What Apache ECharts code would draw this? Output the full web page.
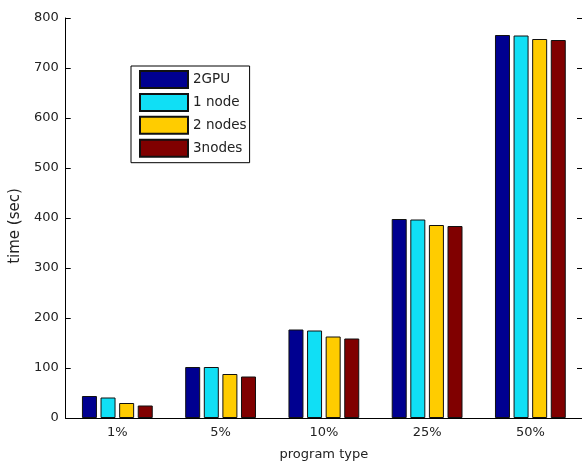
<!DOCTYPE html>
<html>
<head>
<meta charset="utf-8">
<script src="https://cdn.jsdelivr.net/npm/echarts@6/dist/echarts.min.js"></script>
<style>
  html, body { margin: 0; padding: 0; background: #fff; }
  #chart { width: 582px; height: 466px; }
</style>
</head>
<body>
<div id="chart"></div>
<script>
    // program types (x categories)
    let categories = ['1%', '5%', '10%', '25%', '50%']
    // time (sec) for each configuration
    let gpu2 = [44, 102, 177, 398, 766]
    let node1 = [41, 102, 175, 397, 765]
    let nodes2 = [30, 88, 163, 386, 758]
    let nodes3 = [25, 83, 159, 384, 756]
    let yTicks = [0, 100, 200, 300, 400, 500, 600, 700, 800]

    let seriesList = [
        { name: '2GPU', color: '#000090', data: gpu2 },
        { name: '1 node', color: '#10DFF5', data: node1 },
        { name: '2 nodes', color: '#FFCC00', data: nodes2 },
        { name: '3nodes', color: '#800000', data: nodes3 }
    ]

    let font = 'DejaVu Sans'
    let chart = echarts.init(document.getElementById('chart'))

    chart.setOption({
        animation: false,
        backgroundColor: '#fff',
        legend: {
            orient: 'vertical',
            left: 131,
            top: 66,
            padding: [4, 3, 5, 8],
            itemGap: 3.9,
            itemWidth: 48,
            itemHeight: 17,
            icon: 'rect',
            borderColor: '#000',
            borderWidth: 1,
            backgroundColor: '#fff',
            textStyle: { fontFamily: font, fontSize: 13.5, color: '#222', lineHeight: 17 },
            data: seriesList.map(s => s.name)
        },
        grid: {
            left: 65,
            top: 18,
            width: 518,
            bottom: 41
        },
        xAxis: [
            {
                type: 'category',
                data: categories,
                name: 'program type',
                nameLocation: 'middle',
                nameGap: 30,
                nameTextStyle: { fontFamily: font, fontSize: 13, color: '#222' },
                axisLine: { lineStyle: { color: '#000', width: 1 } },
                axisTick: { inside: true, alignWithLabel: true, length: 5, lineStyle: { color: '#000' } },
                axisLabel: { fontFamily: font, fontSize: 13, color: '#222', margin: 8 }
            },
            {
                type: 'category',
                position: 'top',
                data: categories,
                axisLine: { lineStyle: { color: '#000', width: 1 } },
                axisTick: { inside: true, alignWithLabel: true, length: 5, lineStyle: { color: '#000' } },
                axisLabel: { show: false }
            }
        ],
        yAxis: [
            {
                type: 'value',
                min: yTicks[0],
                max: yTicks[yTicks.length - 1],
                interval: 100,
                name: 'time (sec)',
                nameLocation: 'middle',
                nameGap: 39,
                nameTextStyle: { fontFamily: font, fontSize: 15, color: '#222', padding: [0, 16, 0, 0] },
                axisLine: { show: true, lineStyle: { color: '#000', width: 1 } },
                axisTick: { show: true, inside: true, length: 5, lineStyle: { color: '#000' } },
                axisLabel: { fontFamily: font, fontSize: 13, color: '#222', margin: 7 },
                splitLine: { show: false }
            },
            {
                type: 'value',
                position: 'right',
                min: yTicks[0],
                max: yTicks[yTicks.length - 1],
                interval: 100,
                axisLine: { show: true, lineStyle: { color: '#000', width: 1 } },
                axisTick: { show: true, inside: true, length: 5, lineStyle: { color: '#000' } },
                axisLabel: { show: false },
                splitLine: { show: false }
            }
        ],
        series: seriesList.map(s => ({
            name: s.name,
            type: 'bar',
            xAxisIndex: 0,
            yAxisIndex: 0,
            barWidth: 15,
            barGap: '24%',
            itemStyle: { color: s.color, borderColor: '#111', borderWidth: 1 },
            data: s.data
        }))
    })
</script>
</body>
</html>
